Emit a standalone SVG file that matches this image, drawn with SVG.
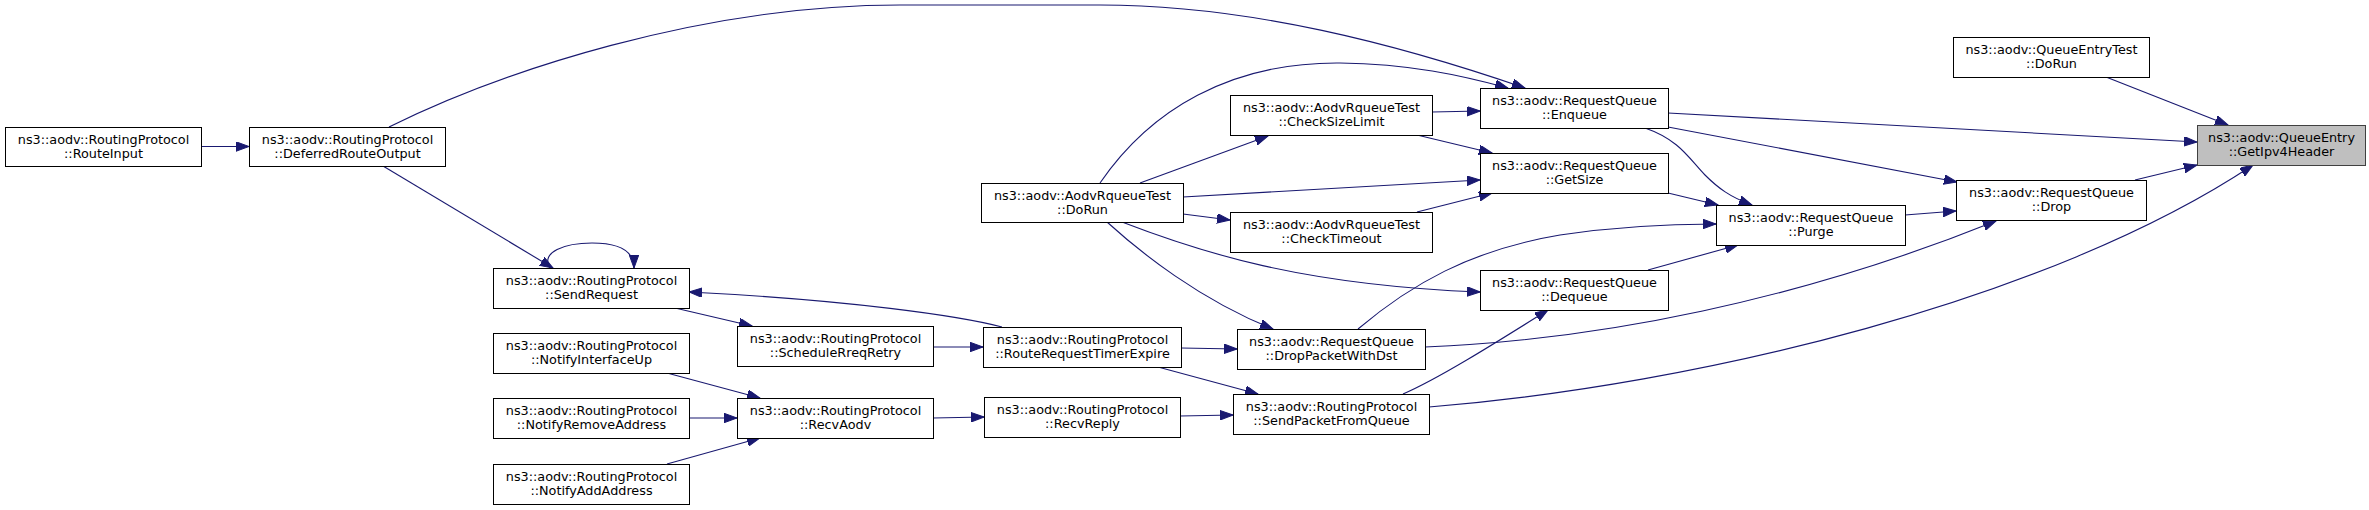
<svg xmlns="http://www.w3.org/2000/svg" width="2369" height="510" viewBox="0 0 2369 510">
<style>
.node rect{fill:#ffffff;stroke:#000000;stroke-width:1}
.node.root rect{fill:#bfbfbf;stroke:#404040}
.node text{font-family:"DejaVu Sans","Liberation Sans",sans-serif;font-size:12.8px;text-anchor:middle;fill:#000000}
.edges path{fill:none;stroke:#191970;stroke-width:1.1;marker-end:url(#arr)}
</style>
<defs>
<marker id="arr" markerUnits="userSpaceOnUse" markerWidth="14" markerHeight="10" refX="13" refY="4.75" orient="auto">
<path d="M0,0 L13,4.75 L0,9.5 Z" fill="#191970" stroke="#191970" stroke-width="1"/>
</marker>
</defs>
<rect width="2369" height="510" fill="#ffffff"/>
<g class="edges" id="edges">
<path d="M201,146.5 L249,146.5"/>
<path d="M383,166 L553,268"/>
<path d="M389,127 C500,72 700,5 900,5 L1100,5 C1250,5 1400,45 1525,88"/>
<path d="M550,268 C540,252 565,243 592,243 C618,243 634,250 634,268"/>
<path d="M1002,327 C960,316 850,300 689,292"/>
<path d="M675,308 L752,326"/>
<path d="M933,347 L983,347"/>
<path d="M667,373 L760,398"/>
<path d="M689,418 L737,418"/>
<path d="M667,464 L760,438"/>
<path d="M933,418 L984,417"/>
<path d="M1181,348 L1237,349"/>
<path d="M1158,367 L1258,394"/>
<path d="M1180,416 L1233,415"/>
<path d="M1100,183 C1150,110 1230,62 1340,63 C1410,64 1460,75 1508,88"/>
<path d="M1140,183 L1268,136"/>
<path d="M1183,197 L1480,180"/>
<path d="M1183,214 L1230,220"/>
<path d="M1107,222 C1140,252 1200,300 1273,329"/>
<path d="M1122,222 C1200,252 1300,285 1480,292"/>
<path d="M1432,112 L1480,111"/>
<path d="M1417,135 L1492,153"/>
<path d="M1417,212 L1492,193"/>
<path d="M1668,113 L2197,142"/>
<path d="M1668,127 L1957,182"/>
<path d="M1645,128 C1680,140 1690,160 1705,175 C1718,188 1730,197 1752,205"/>
<path d="M1668,193 L1718,205"/>
<path d="M1905,215 L1956,211"/>
<path d="M2135,180 L2197,165"/>
<path d="M2106,77 L2228,125"/>
<path d="M1648,270 L1738,245"/>
<path d="M1358,329 C1410,285 1470,250 1560,235 C1620,226 1670,224 1716,224"/>
<path d="M1425,347 C1600,340 1800,300 1996,221"/>
<path d="M1403,394 C1440,378 1500,340 1548,310"/>
<path d="M1429,407 C1700,385 2050,300 2253,165"/>
</g>
<g id="n_routeinput" class="node"><rect x="5.5" y="127.5" width="196" height="39"/><text x="103.5" y="143.5">ns3::aodv::RoutingProtocol</text><text x="103.5" y="158">::RouteInput</text></g>
<g id="n_deferred" class="node"><rect x="249.5" y="127.5" width="196" height="39"/><text x="347.5" y="143.5">ns3::aodv::RoutingProtocol</text><text x="347.5" y="158">::DeferredRouteOutput</text></g>
<g id="n_sendrequest" class="node"><rect x="493.5" y="268.5" width="196" height="40"/><text x="591.5" y="284.5">ns3::aodv::RoutingProtocol</text><text x="591.5" y="299">::SendRequest</text></g>
<g id="n_notifyup" class="node"><rect x="493.5" y="333.5" width="196" height="40"/><text x="591.5" y="349.5">ns3::aodv::RoutingProtocol</text><text x="591.5" y="364">::NotifyInterfaceUp</text></g>
<g id="n_notifyremove" class="node"><rect x="493.5" y="398.5" width="196" height="40"/><text x="591.5" y="414.5">ns3::aodv::RoutingProtocol</text><text x="591.5" y="429">::NotifyRemoveAddress</text></g>
<g id="n_notifyadd" class="node"><rect x="493.5" y="464.5" width="196" height="40"/><text x="591.5" y="480.5">ns3::aodv::RoutingProtocol</text><text x="591.5" y="495">::NotifyAddAddress</text></g>
<g id="n_schedule" class="node"><rect x="737.5" y="326.5" width="196" height="40"/><text x="835.5" y="342.5">ns3::aodv::RoutingProtocol</text><text x="835.5" y="357">::ScheduleRreqRetry</text></g>
<g id="n_recvaodv" class="node"><rect x="737.5" y="398.5" width="196" height="40"/><text x="835.5" y="414.5">ns3::aodv::RoutingProtocol</text><text x="835.5" y="429">::RecvAodv</text></g>
<g id="n_rrte" class="node"><rect x="983.5" y="327.5" width="198" height="40"/><text x="1082.5" y="343.5">ns3::aodv::RoutingProtocol</text><text x="1082.5" y="358">::RouteRequestTimerExpire</text></g>
<g id="n_recvreply" class="node"><rect x="984.5" y="397.5" width="196" height="40"/><text x="1082.5" y="413.5">ns3::aodv::RoutingProtocol</text><text x="1082.5" y="428">::RecvReply</text></g>
<g id="n_aodvdorun" class="node"><rect x="981.5" y="183.5" width="202" height="39"/><text x="1082.5" y="199.5">ns3::aodv::AodvRqueueTest</text><text x="1082.5" y="214">::DoRun</text></g>
<g id="n_checksize" class="node"><rect x="1230.5" y="95.5" width="202" height="40"/><text x="1331.5" y="111.5">ns3::aodv::AodvRqueueTest</text><text x="1331.5" y="126">::CheckSizeLimit</text></g>
<g id="n_checktimeout" class="node"><rect x="1230.5" y="212.5" width="202" height="40"/><text x="1331.5" y="228.5">ns3::aodv::AodvRqueueTest</text><text x="1331.5" y="243">::CheckTimeout</text></g>
<g id="n_droppacket" class="node"><rect x="1237.5" y="329.5" width="188" height="40"/><text x="1331.5" y="345.5">ns3::aodv::RequestQueue</text><text x="1331.5" y="360">::DropPacketWithDst</text></g>
<g id="n_sendpacket" class="node"><rect x="1233.5" y="394.5" width="196" height="40"/><text x="1331.5" y="410.5">ns3::aodv::RoutingProtocol</text><text x="1331.5" y="425">::SendPacketFromQueue</text></g>
<g id="n_enqueue" class="node"><rect x="1480.5" y="88.5" width="188" height="40"/><text x="1574.5" y="104.5">ns3::aodv::RequestQueue</text><text x="1574.5" y="119">::Enqueue</text></g>
<g id="n_getsize" class="node"><rect x="1480.5" y="153.5" width="188" height="40"/><text x="1574.5" y="169.5">ns3::aodv::RequestQueue</text><text x="1574.5" y="184">::GetSize</text></g>
<g id="n_dequeue" class="node"><rect x="1480.5" y="270.5" width="188" height="40"/><text x="1574.5" y="286.5">ns3::aodv::RequestQueue</text><text x="1574.5" y="301">::Dequeue</text></g>
<g id="n_purge" class="node"><rect x="1716.5" y="205.5" width="189" height="40"/><text x="1811" y="221.5">ns3::aodv::RequestQueue</text><text x="1811" y="236">::Purge</text></g>
<g id="n_drop" class="node"><rect x="1956.5" y="180.5" width="190" height="40"/><text x="2051.5" y="196.5">ns3::aodv::RequestQueue</text><text x="2051.5" y="211">::Drop</text></g>
<g id="n_queueentrytest" class="node"><rect x="1953.5" y="37.5" width="196" height="40"/><text x="2051.5" y="53.5">ns3::aodv::QueueEntryTest</text><text x="2051.5" y="68">::DoRun</text></g>
<g id="n_getipv4" class="node root"><rect x="2197.5" y="125.5" width="168" height="40"/><text x="2281.5" y="141.5">ns3::aodv::QueueEntry</text><text x="2281.5" y="156">::GetIpv4Header</text></g>
</svg>
